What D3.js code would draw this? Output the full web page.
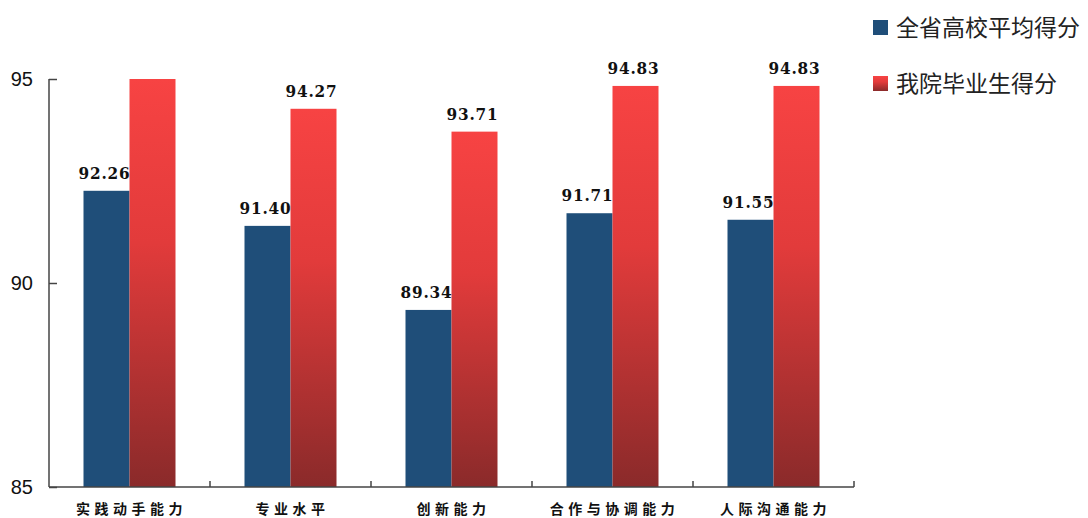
<!DOCTYPE html>
<html>
<head>
<meta charset="utf-8">
<script src="https://cdn.jsdelivr.net/npm/d3@7"></script>
<style>
  body { margin: 0; background: #fff; }
  svg { display: block; }
</style>
</head>
<body>
<div id="chart"></div>
<script>
  'use strict';

  // Data.
  var categories = ['实践动手能力', '专业水平', '创新能力', '合作与协调能力', '人际沟通能力'];
  var seriesNames = ['全省高校平均得分', '我院毕业生得分'];
  var provinceAvg = [92.26, 91.40, 89.34, 91.71, 91.55];
  var ourGrads = [95.00, 94.27, 93.71, 94.83, 94.83];
  // The first red bar has no label in the original.
  var ourGradsLabelled = [false, true, true, true, true];
  var yTicks = [85, 90, 95];

  var width = 1088, height = 518;
  var margin = {top: 79, left: 49, right: 234, bottom: 31};
  var plotW = width - margin.left - margin.right,
      plotH = height - margin.top - margin.bottom;

  var svg = d3.select('#chart').append('svg')
      .attr('width', width)
      .attr('height', height);

  var defs = svg.append('defs');
  var grad = defs.append('linearGradient')
      .attr('id', 'redGrad')
      .attr('x1', 0).attr('y1', 0).attr('x2', 0).attr('y2', 1);
  grad.append('stop').attr('offset', '0%').attr('stop-color', '#f74343');
  grad.append('stop').attr('offset', '40%').attr('stop-color', '#e23b3b');
  grad.append('stop').attr('offset', '100%').attr('stop-color', '#8a2a2a');

  var colors = ['#1f4e79', 'url(#redGrad)'];

  var x0 = d3.scaleBand()
      .domain(categories)
      .range([0, plotW])
      .paddingInner(0)
      .paddingOuter(0);

  var x1 = d3.scaleBand()
      .domain(seriesNames)
      .range([0, x0.bandwidth()])
      .paddingInner(0)
      .paddingOuter(0.75);

  var y = d3.scaleLinear()
      .domain([85, 95])
      .range([plotH, 0]);

  var inner = svg.append('g')
      .attr('transform', translation(margin.left, margin.top));

  var rows = categories.map(function(c, i) {
    return {
      cat: c,
      values: [
        {series: seriesNames[0], value: provinceAvg[i], labelled: true},
        {series: seriesNames[1], value: ourGrads[i], labelled: ourGradsLabelled[i]}
      ]
    };
  });

  // Bars
  var groups = inner.selectAll('.group')
      .data(rows)
      .enter().append('g')
      .attr('class', 'group')
      .attr('transform', function(d) { return translation(x0(d.cat), 0); });

  groups.selectAll('rect')
      .data(function(d) { return d.values; })
      .enter().append('rect')
      .attr('x', function(d) { return x1(d.series); })
      .attr('y', function(d) { return y(d.value); })
      .attr('width', x1.bandwidth())
      .attr('height', function(d) { return plotH - y(d.value); })
      .attr('fill', function(d, i) { return colors[i]; });

  groups.selectAll('text.value')
      .data(function(d) { return d.values.filter(function(v) { return v.labelled; }); })
      .enter().append('text')
      .attr('class', 'value')
      .attr('x', function(d) { return x1(d.series) + x1.bandwidth() / 2 - 2; })
      .attr('y', function(d) { return y(d.value) - 12; })
      .attr('text-anchor', 'middle')
      .style('font-family', '"DejaVu Serif Condensed", "DejaVu Serif", serif')
      .style('font-weight', 'bold')
      .style('font-size', '17px')
      .style('letter-spacing', '0.8px')
      .style('fill', '#111')
      .text(function(d) { return d3.format('.2f')(d.value); });

  // Y axis
  var yAxis = d3.axisRight(y)
      .tickValues(yTicks)
      .tickSize(8)
      .tickFormat('');

  var yG = inner.append('g').call(yAxis);
  yG.select('.domain').remove();
  yG.selectAll('line').attr('stroke', '#444').attr('stroke-width', 1.5);
  inner.append('line')
      .attr('x1', 0).attr('x2', 0)
      .attr('y1', 0).attr('y2', plotH)
      .attr('stroke', '#444').attr('stroke-width', 1.5);

  inner.selectAll('.ylabel')
      .data(yTicks)
      .enter().append('text')
      .attr('class', 'ylabel')
      .attr('x', -16)
      .attr('y', function(d) { return y(d); })
      .attr('dy', '0.36em')
      .attr('text-anchor', 'end')
      .style('font-family', '"Liberation Sans", Arial, sans-serif')
      .style('font-size', '20px')
      .style('fill', '#111')
      .text(function(d) { return d; });

  // X axis
  var xG = inner.append('g')
      .attr('transform', translation(0, plotH));
  xG.append('line')
      .attr('x1', 0).attr('x2', plotW)
      .attr('stroke', '#444').attr('stroke-width', 1.5);
  xG.selectAll('.xtick')
      .data(categories)
      .enter().append('line')
      .attr('class', 'xtick')
      .attr('x1', function(d) { return x0(d) + x0.bandwidth(); })
      .attr('x2', function(d) { return x0(d) + x0.bandwidth(); })
      .attr('y1', 0).attr('y2', -6)
      .attr('stroke', '#444').attr('stroke-width', 1.5);
  xG.selectAll('.xlabel')
      .data(categories)
      .enter().append('text')
      .attr('class', 'xlabel')
      .attr('x', function(d) { return x0(d) + x0.bandwidth() / 2 + 2; })
      .attr('y', 27)
      .attr('text-anchor', 'middle')
      .style('font-family', '"Noto Sans CJK SC", sans-serif')
      .style('font-weight', 'bold')
      .style('font-size', '14px')
      .style('letter-spacing', '4.5px')
      .style('fill', '#111')
      .text(function(d) { return d; });

  // Legend
  var legend = svg.append('g')
      .attr('transform', translation(873, 20));
  var items = legend.selectAll('.item')
      .data(seriesNames)
      .enter().append('g')
      .attr('class', 'item')
      .attr('transform', function(d, i) { return translation(0, i * 56); });
  items.append('rect')
      .attr('width', 15).attr('height', 15)
      .attr('fill', function(d, i) { return colors[i]; });
  items.append('text')
      .attr('x', 23)
      .attr('y', 8)
      .attr('dy', '0.36em')
      .style('font-family', '"Noto Sans CJK SC", sans-serif')
      .style('font-size', '23px')
      .style('fill', '#222')
      .text(function(d) { return d; });

  function translation(x, y) {
    return 'translate(' + x + ',' + y + ')';
  }
</script>
</body>
</html>
